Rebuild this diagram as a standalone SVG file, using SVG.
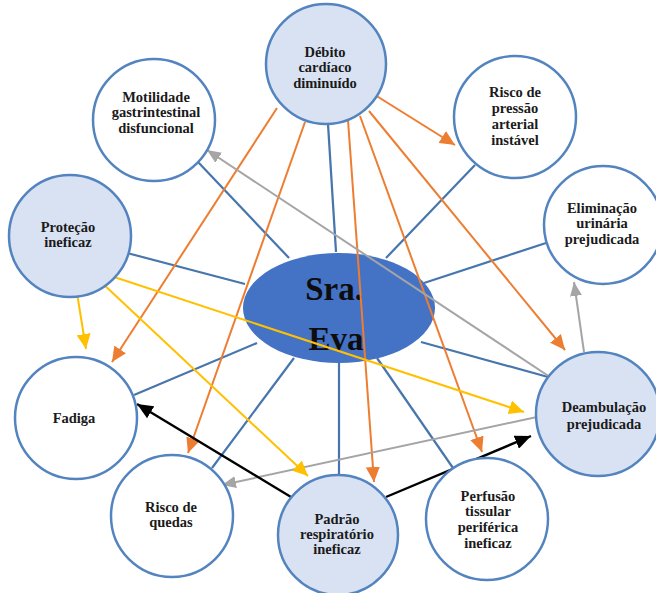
<svg xmlns="http://www.w3.org/2000/svg" width="656" height="593" viewBox="0 0 656 593">
  <defs>
    <style>
      .node { stroke: #5384bf; stroke-width: 2.5; }
      .filled { fill: #d9e2f3; }
      .plain { fill: #ffffff; }
      .label { font-family: "Liberation Serif", "Times New Roman", serif; font-weight: bold; font-size: 14.5px; fill: #1a1a1a; text-anchor: middle; }
      .center-label { font-family: "Liberation Serif", "Times New Roman", serif; font-weight: bold; font-size: 33px; fill: #0d0d0d; text-anchor: middle; }
      .spoke { stroke: #4676ad; stroke-width: 2.2; fill: none; }
      .orange { stroke: #ed7d31; stroke-width: 2; fill: none; marker-end: url(#head-orange); }
      .yellow { stroke: #ffc000; stroke-width: 2; fill: none; marker-end: url(#head-yellow); }
      .gray { stroke: #a5a5a5; stroke-width: 2; fill: none; marker-end: url(#head-gray); }
      .black { stroke: #000000; stroke-width: 2.4; fill: none; marker-end: url(#head-black); }
    </style>
    <marker id="head-orange" markerUnits="userSpaceOnUse" markerWidth="16" markerHeight="14" refX="15" refY="7" orient="auto">
      <path d="M0,0 L15,7 L0,14 z" fill="#ed7d31"/>
    </marker>
    <marker id="head-yellow" markerUnits="userSpaceOnUse" markerWidth="16" markerHeight="14" refX="15" refY="7" orient="auto">
      <path d="M0,0 L15,7 L0,14 z" fill="#ffc000"/>
    </marker>
    <marker id="head-gray" markerUnits="userSpaceOnUse" markerWidth="15" markerHeight="12" refX="14" refY="6" orient="auto">
      <path d="M0,0 L14,6 L0,12 z" fill="#a5a5a5"/>
    </marker>
    <marker id="head-black" markerUnits="userSpaceOnUse" markerWidth="17" markerHeight="14" refX="16" refY="7" orient="auto">
      <path d="M0,0 L16,7 L0,14 z" fill="#000000"/>
    </marker>
  </defs>

  <rect width="656" height="593" fill="#ffffff"/>

  <!-- spokes from every node to the central ellipse -->
  <g id="spokes">
    <line class="spoke" x1="198" y1="162" x2="289" y2="258"/>
    <line class="spoke" x1="328" y1="124" x2="336" y2="252"/>
    <line class="spoke" x1="475" y1="165" x2="386" y2="258"/>
    <line class="spoke" x1="546" y1="243" x2="424" y2="283"/>
    <line class="spoke" x1="127" y1="253" x2="245" y2="284"/>
    <line class="spoke" x1="134" y1="395" x2="257" y2="343"/>
    <line class="spoke" x1="212" y1="468" x2="294" y2="358"/>
    <line class="spoke" x1="339" y1="477" x2="339" y2="363"/>
    <line class="spoke" x1="453" y1="468" x2="377" y2="358"/>
    <line class="spoke" x1="548" y1="377" x2="421" y2="342"/>
  </g>

  <!-- central patient node -->
  <g id="node-sra-eva">
    <ellipse cx="339" cy="308" rx="96" ry="55" fill="#4472c4"/>
    <text class="center-label" x="334" y="300">Sra.</text>
    <text class="center-label" x="336" y="350">Eva</text>
  </g>

  <!-- relations between diagnoses -->
  <g id="connectors">
    <!-- from Débito cardíaco diminuído -->
    <line class="orange" x1="277" y1="108" x2="112" y2="362"/>
    <line class="orange" x1="305" y1="122" x2="188" y2="453"/>
    <line class="orange" x1="348" y1="120" x2="374" y2="482"/>
    <line class="orange" x1="360" y1="116" x2="482" y2="452"/>
    <line class="orange" x1="369" y1="111" x2="565" y2="350"/>
    <line class="orange" x1="375" y1="95" x2="455" y2="145"/>
    <!-- from Deambulação prejudicada -->
    <line class="gray" x1="550" y1="377" x2="207" y2="150"/>
    <line class="gray" x1="584" y1="352" x2="574" y2="282"/>
    <line class="gray" x1="537" y1="417" x2="222" y2="485"/>
    <!-- from Proteção ineficaz -->
    <line class="yellow" x1="77" y1="293" x2="86" y2="349"/>
    <line class="yellow" x1="105" y1="274" x2="524" y2="412"/>
    <line class="yellow" x1="101" y1="282" x2="308" y2="476"/>
    <!-- from Padrão respiratório ineficaz -->
    <line class="black" x1="291" y1="497" x2="137" y2="404"/>
    <line class="black" x1="386" y1="497" x2="531" y2="436"/>
  </g>

  <g id="node-debito">
    <circle class="node filled" cx="326" cy="64" r="60"/>
    <text class="label" x="325" y="57">Débito</text>
    <text class="label" x="325" y="72">cardíaco</text>
    <text class="label" x="325" y="88">diminuído</text>
  </g>

  <g id="node-motilidade">
    <circle class="node plain" cx="154" cy="120" r="61"/>
    <text class="label" x="156" y="102">Motilidade</text>
    <text class="label" x="156" y="117">gastrintestinal</text>
    <text class="label" x="156" y="133">disfuncional</text>
  </g>

  <g id="node-risco-pressao">
    <circle class="node plain" cx="515" cy="117" r="61"/>
    <text class="label" x="515" y="97">Risco de</text>
    <text class="label" x="515" y="113">pressão</text>
    <text class="label" x="515" y="129">arterial</text>
    <text class="label" x="515" y="145">instável</text>
  </g>

  <g id="node-protecao">
    <circle class="node filled" cx="70" cy="236" r="61"/>
    <text class="label" x="68" y="232">Proteção</text>
    <text class="label" x="68" y="247">ineficaz</text>
  </g>

  <g id="node-eliminacao">
    <circle class="node plain" cx="603" cy="225" r="59"/>
    <text class="label" x="602" y="213">Eliminação</text>
    <text class="label" x="602" y="228">urinária</text>
    <text class="label" x="602" y="244">prejudicada</text>
  </g>

  <g id="node-fadiga">
    <circle class="node plain" cx="76" cy="418" r="61"/>
    <text class="label" x="74" y="423">Fadiga</text>
  </g>

  <g id="node-deambulacao">
    <circle class="node filled" cx="598" cy="414" r="62"/>
    <text class="label" x="604" y="412">Deambulação</text>
    <text class="label" x="604" y="429">prejudicada</text>
  </g>

  <g id="node-risco-quedas">
    <circle class="node plain" cx="172" cy="516" r="61"/>
    <text class="label" x="171" y="512">Risco de</text>
    <text class="label" x="171" y="527">quedas</text>
  </g>

  <g id="node-padrao">
    <circle class="node filled" cx="338" cy="535" r="60"/>
    <text class="label" x="337" y="524">Padrão</text>
    <text class="label" x="337" y="539">respiratório</text>
    <text class="label" x="337" y="554">ineficaz</text>
  </g>

  <g id="node-perfusao">
    <circle class="node plain" cx="487" cy="519" r="61"/>
    <text class="label" x="488" y="501">Perfusão</text>
    <text class="label" x="488" y="516">tissular</text>
    <text class="label" x="488" y="532">periférica</text>
    <text class="label" x="488" y="548">ineficaz</text>
  </g>
</svg>
